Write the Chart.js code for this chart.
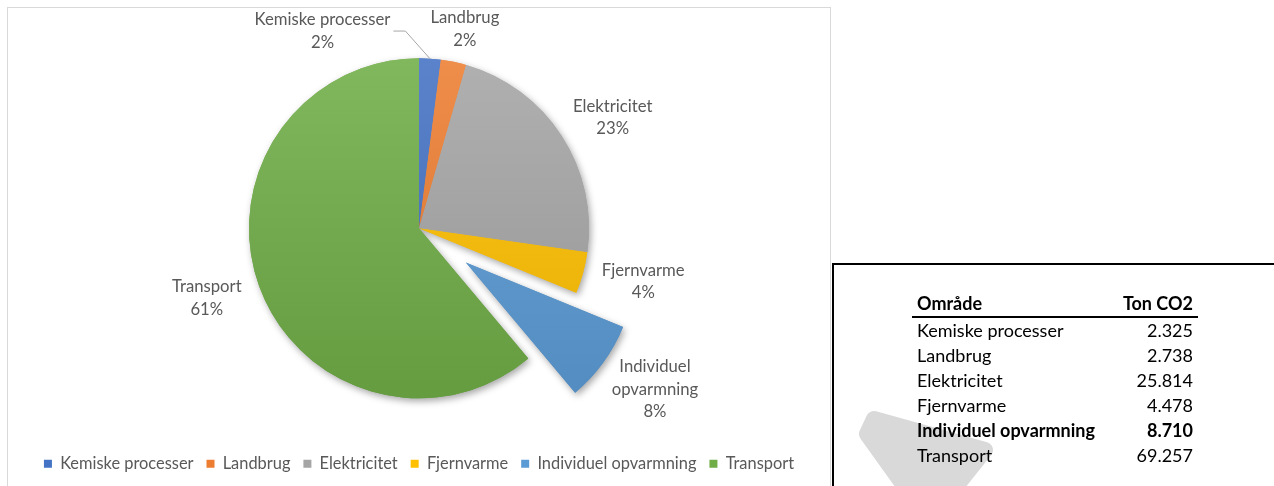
<!DOCTYPE html>
<html>
<head>
<meta charset="utf-8">
<script src="https://cdn.jsdelivr.net/npm/chart.js@4.4.1/dist/chart.umd.min.js"></script>
<style>
  body { margin: 0; width: 1274px; height: 486px; overflow: hidden; background: #fff; font-family: Lato, sans-serif; }
  #chartBox { position: absolute; left: 7px; top: 7px; width: 824px; height: 500px; border: 1px solid #d9d9d9; box-sizing: border-box; }
  #chartBox canvas { position: absolute; left: 0; top: 0; }
  #mark { position: absolute; left: 0; top: 0; }
  #tableBox { position: absolute; left: 832px; top: 263px; width: 460px; height: 240px; border: 2px solid #000; box-sizing: border-box; }
  #tableBox table { position: absolute; left: 78px; top: 26px; width: 286px; border-collapse: collapse; font-size: 18px; color: #000; }
  #tableBox th, #tableBox td { height: 25px; line-height: 25px; padding: 0 5px; white-space: nowrap; }
  #tableBox th { text-align: left; border-bottom: 2px solid #000; }
  #tableBox .num { text-align: right; }
  #tableBox .hl td { font-weight: bold; }
</style>
</head>
<body>
<div id="chartBox"><canvas id="pie" width="822" height="478"></canvas></div>
<svg id="mark" width="1274" height="486">
  <path d="M 874 419 L 985 450 L 950 494 L 910 494 L 867 434 Z" fill="#d9d9d9" stroke="#d9d9d9" stroke-width="16" stroke-linejoin="round"/>
</svg>
<div id="tableBox">
  <table id="tbl"></table>
</div>
<script>
// CO2-udledning pr. område (ton)
const categories = ["Kemiske processer", "Landbrug", "Elektricitet", "Fjernvarme", "Individuel opvarmning", "Transport"];
const values = [2325, 2738, 25814, 4478, 8710, 69257];
const colors = ["#4472C4", "#ED7D31", "#A5A5A5", "#FFC000", "#5B9BD5", "#70AD47"];
const highlight = categories.indexOf("Individuel opvarmning");

const total = values.reduce((a, b) => a + b, 0);
const fmt = n => String(n).replace(/\B(?=(\d{3})+(?!\d))/g, ".");

// table
let html = "<tr><th>Område</th><th class='num'>Ton CO2</th></tr>";
categories.forEach((c, i) => {
  html += "<tr" + (i === highlight ? " class='hl'" : "") + "><td>" + c + "</td><td class='num'>" + fmt(values[i]) + "</td></tr>";
});
document.getElementById("tbl").innerHTML = html;

function shade(hex, amt) {
  const n = parseInt(hex.slice(1), 16);
  let r = n >> 16, g = (n >> 8) & 255, b = n & 255;
  const f = v => Math.round(amt >= 0 ? v + (255 - v) * amt : v * (1 + amt));
  return "rgb(" + f(r) + "," + f(g) + "," + f(b) + ")";
}

const RADIUS = 170;
const EXPLODE = 58;

// pull the highlighted slice out along its middle angle
const explodePlugin = {
  id: "explode",
  afterDatasetsUpdate(chart) {
    const arc = chart.getDatasetMeta(0).data[highlight];
    if (!arc) return;
    const mid = (arc.startAngle + arc.endAngle) / 2;
    arc.x += Math.cos(mid) * EXPLODE;
    arc.y += Math.sin(mid) * EXPLODE;
  },
  beforeDatasetsDraw(chart) {
    const ctx = chart.ctx;
    ctx.save();
    ctx.shadowColor = "rgba(0,0,0,0.35)";
    ctx.shadowBlur = 7;
    ctx.shadowOffsetX = 2;
    ctx.shadowOffsetY = 3;
    chart.getDatasetMeta(0).data.forEach(a => a.draw(ctx));
    ctx.restore();
  }
};

function wrapLabel(ctx, text, maxW) {
  if (ctx.measureText(text).width <= maxW) return [text];
  return text.split(" ");
}

const labelPlugin = {
  id: "sliceLabels",
  afterDatasetsDraw(chart) {
    const ctx = chart.ctx;
    const meta = chart.getDatasetMeta(0);
    const lineH = 22.5, gap = 7, mh = 14, mv = 4;
    ctx.save();
    ctx.font = "16.7px Lato";
    const boxes = meta.data.map((arc, i) => {
      const mid = (arc.startAngle + arc.endAngle) / 2;
      const dx = Math.cos(mid), dy = Math.sin(mid);
      const lines = wrapLabel(ctx, categories[i], 150).concat(Math.round(values[i] / total * 100) + "%");
      const w = Math.max(...lines.map(l => ctx.measureText(l).width));
      const h = lines.length * lineH;
      const hw = w / 2 + mh, hh = h / 2 + mv;
      const cx = arc.x + dx * (arc.outerRadius + gap + hw);
      const cy = arc.y + dy * (arc.outerRadius + gap + hh);
      return { cx, cy, w, h, lines, ex: arc.x + dx * arc.outerRadius, ey: arc.y + dy * arc.outerRadius, moved: false };
    });
    // push colliding labels sideways
    for (let i = 0; i < boxes.length; i++) {
      for (let j = i + 1; j < boxes.length; j++) {
        const a = boxes[i], b = boxes[j];
        if (Math.abs(a.cx - b.cx) < (a.w + b.w) / 2 && Math.abs(a.cy - b.cy) < (a.h + b.h) / 2) {
          if (a.cx <= b.cx) a.cx = b.cx - b.w / 2 - 40 - a.w / 2;
          else a.cx = b.cx + b.w / 2 + 40 + a.w / 2;
          a.cy = b.cy + 2;
          a.moved = true;
        }
      }
    }
    ctx.fillStyle = "#595959";
    ctx.textAlign = "center";
    ctx.textBaseline = "middle";
    boxes.forEach(b => {
      b.lines.forEach((l, k) => {
        ctx.fillText(l, b.cx, b.cy - b.h / 2 + lineH * (k + 0.5));
      });
      if (b.moved) {
        const sx = b.cx + (b.ex > b.cx ? 1 : -1) * (b.w / 2 + 3);
        const kx = sx + (b.ex > b.cx ? 12 : -12);
        ctx.beginPath();
        ctx.moveTo(sx, b.cy);
        ctx.lineTo(kx, b.cy);
        ctx.lineTo(b.ex, b.ey);
        ctx.strokeStyle = "#a6a6a6";
        ctx.lineWidth = 1;
        ctx.stroke();
      }
    });
    ctx.restore();
  }
};

const data = {
  labels: categories,
  datasets: [{
    data: values,
    radius: RADIUS,
    borderWidth: 0,
    backgroundColor: (c) => {
      const base = colors[c.dataIndex];
      const area = c.chart.chartArea;
      if (!area) return base;
      const cy = (area.top + area.bottom) / 2;
      const g = c.chart.ctx.createLinearGradient(0, cy - RADIUS, 0, cy + RADIUS);
      g.addColorStop(0, shade(base, 0.12));
      g.addColorStop(1, shade(base, -0.1));
      return g;
    }
  }]
};

const config = {
  type: "pie",
  data: data,
  options: {
    responsive: false,
    animation: false,
    events: [],
    layout: { padding: { top: 6, bottom: 4, left: 0, right: 0 } },
    plugins: {
      tooltip: { enabled: false },
      legend: {
        position: "bottom",
        labels: {
          boxWidth: 8,
          boxHeight: 8,
          padding: 13,
          color: "#595959",
          font: { family: "Lato", size: 16.4 },
          generateLabels: (chart) => {
            const items = Chart.overrides.pie.plugins.legend.labels.generateLabels(chart);
            items.forEach((it, i) => { it.fillStyle = colors[i]; it.strokeStyle = colors[i]; it.lineWidth = 0; });
            return items;
          }
        }
      }
    }
  },
  plugins: [explodePlugin, labelPlugin]
};

const pie_chart = new Chart(document.getElementById("pie"), config);
</script>
</body>
</html>
